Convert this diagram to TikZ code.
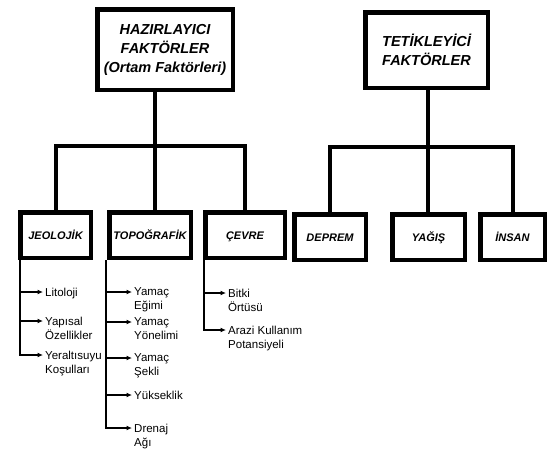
\documentclass[tikz,border=0pt]{standalone}
\usepackage{fontspec}
\setmainfont{Liberation Sans}
\usetikzlibrary{arrows.meta}
\begin{document}
\begin{tikzpicture}[x=1pt,y=-1pt,
  topbox/.style={draw, line width=4.5pt, fill=white, inner sep=0pt, align=center,
    font=\bfseries\itshape\fontsize{14.5}{19}\selectfont},
  catbox/.style={draw, line width=4.5pt, fill=white, inner sep=0pt, minimum height=45.5pt,
    text height=8pt, text depth=0pt,
    font=\bfseries\itshape\fontsize{11}{14}\selectfont},
  item/.style={anchor=north west, inner sep=0pt, align=left,
    font=\fontsize{11.5}{14}\selectfont},
  conn/.style={line width=4pt, line cap=rect, line join=miter},
  sub/.style={line width=1.6pt},
  arr/.style={sub, -{Latex[length=5.5pt,width=5pt]}}
]
\useasboundingbox (0,0) rectangle (548,451);

% top boxes
\node[topbox, minimum width=135.5pt, minimum height=80.5pt] (haz) at (165,49.5)
  {HAZIRLAYICI\\FAKTÖRLER\\(Ortam Faktörleri)};
\node[topbox, minimum width=122.5pt, minimum height=75.5pt] (tet) at (426.5,50)
  {TETİKLEYİCİ\\FAKTÖRLER};

% category boxes
\node[catbox, minimum width=70.5pt] (jeo) at (55.5,235) {JEOLOJİK};
\node[catbox, minimum width=81.5pt] (topo) at (150,235) {TOPOĞRAFİK};
\node[catbox, minimum width=79.5pt] (cev) at (245,235) {ÇEVRE};
\node[catbox, minimum width=71.5pt] (dep) at (330,237) {DEPREM};
\node[catbox, minimum width=72.5pt] (yag) at (428.5,237) {YAĞIŞ};
\node[catbox, minimum width=64.5pt] (ins) at (512.5,237) {İNSAN};

% junctions
\coordinate (j1) at (155,146);
\coordinate (j2) at (428,147);

% connectors left
\draw[conn] (jeo.north) -- (jeo.north |- j1) -- (cev.north |- j1) -- (cev.north);
\draw[conn] (haz.south -| j1) -- (topo.north -| j1);
% connectors right
\draw[conn] (dep.north) -- (dep.north |- j2) -- (ins.north |- j2) -- (ins.north);
\draw[conn] (tet.south -| j2) -- (yag.north -| j2);

% items
\node[item] (lit) at (45,287.5) {Litoloji};
\node[item] (yap) at (45,316.5) {Yapısal\\Özellikler};
\node[item] (yer) at (45,350.5) {Yeraltısuyu\\Koşulları};

\node[item] (egi) at (134,287.5) {Yamaç\\Eğimi};
\node[item] (yon) at (134,317.5) {Yamaç\\Yönelimi};
\node[item] (sek) at (134,353.5) {Yamaç\\Şekli};
\node[item] (yuk) at (134,390.5) {Yükseklik};
\node[item] (dre) at (134,423.5) {Drenaj\\Ağı};

\node[item] (bit) at (228,288.5) {Bitki\\Örtüsü};
\node[item] (ara) at (228,325.5) {Arazi Kullanım\\Potansiyeli};

% arrow targets and trunk tops
\foreach \n in {lit,yap,yer,egi,yon,sek,yuk,dre,bit,ara}
  \coordinate (\n-a) at ([xshift=-2pt,yshift=-4.5pt]\n.north west);
\coordinate (jt) at ([xshift=2pt]jeo.south west);
\coordinate (tt) at ([xshift=-1pt]topo.south west);
\coordinate (ct) at ([xshift=1pt]cev.south west);

% sub-lists
\draw[arr] (jt) |- (yer-a);
\foreach \n in {lit,yap}
  \draw[arr] (jt |- \n-a) -- (\n-a);

\draw[arr] (tt) |- (dre-a);
\foreach \n in {egi,yon,sek,yuk}
  \draw[arr] (tt |- \n-a) -- (\n-a);

\draw[arr] (ct) |- (ara-a);
\draw[arr] (ct |- bit-a) -- (bit-a);
\end{tikzpicture}
\end{document}
